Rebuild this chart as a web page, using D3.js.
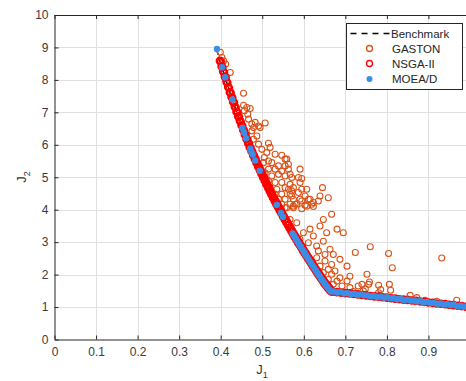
<!DOCTYPE html>
<html>
<head>
<meta charset="utf-8">
<script src="https://cdn.jsdelivr.net/npm/d3@7"></script>
<style>
  html, body { margin: 0; padding: 0; background: #fff; }
  svg { display: block; }
  text { font-family: "Liberation Sans", Arial, Helvetica, sans-serif; }
</style>
</head>
<body>
<svg id="chart" width="466" height="381"></svg>
<script>
// ---------------- data ----------------
const xTicks = [0, 0.1, 0.2, 0.3, 0.4, 0.5, 0.6, 0.7, 0.8, 0.9];
const xGrid = [0, 0.1, 0.2, 0.3, 0.4, 0.5, 0.6, 0.7, 0.8, 0.9, 1.0];
const yTicks = [0, 1, 2, 3, 4, 5, 6, 7, 8, 9, 10];
const seriesNames = ["Benchmark", "GASTON", "NSGA-II", "MOEA/D"];

// Benchmark Pareto front
const benchJ1 = [0.39, 0.40, 0.41, 0.42, 0.43, 0.44, 0.45, 0.46, 0.47, 0.48, 0.49, 0.50, 0.51, 0.52, 0.53, 0.54, 0.55, 0.56, 0.57, 0.58, 0.59, 0.60, 0.61, 0.62, 0.63, 0.64, 0.65, 0.665, 0.75, 0.85, 0.95, 1.00];
const benchJ2 = [8.95, 8.50, 8.10, 7.70, 7.32, 6.95, 6.60, 6.25, 5.92, 5.62, 5.33, 5.05, 4.78, 4.52, 4.27, 4.03, 3.79, 3.56, 3.34, 3.12, 2.91, 2.70, 2.50, 2.30, 2.10, 1.91, 1.72, 1.48, 1.36, 1.22, 1.07, 1.00];

// GASTON
const gastonJ1 = [0.399, 0.403, 0.407, 0.412, 0.423, 0.455, 0.455, 0.463, 0.471, 0.457, 0.465, 0.467, 0.475, 0.491, 0.507, 0.495, 0.479,
  0.483, 0.475, 0.487, 0.479, 0.491, 0.515, 0.519, 0.499, 0.511, 0.531, 0.547, 0.505, 0.515, 0.503, 0.523, 0.555, 0.539, 0.555, 0.515, 0.531, 0.547, 0.563, 0.591, 0.507, 0.523, 0.539, 0.555, 0.571, 0.587, 0.515, 0.531, 0.547, 0.567, 0.591, 0.519, 0.535, 0.555, 0.575, 0.595, 0.607, 0.531, 0.547, 0.567, 0.587, 0.603, 0.539, 0.555, 0.575, 0.595, 0.615, 0.547, 0.567, 0.583, 0.603, 0.619, 0.555, 0.575, 0.595,
  0.559, 0.563, 0.567, 0.595, 0.645, 0.639, 0.659, 0.611, 0.635, 0.571, 0.591, 0.579, 0.623, 0.563, 0.571,
  0.559, 0.575, 0.607, 0.623, 0.667, 0.647, 0.639, 0.680, 0.695, 0.615, 0.599, 0.583, 0.567, 0.623, 0.655, 0.591, 0.611, 0.631, 0.647, 0.663, 0.635, 0.651, 0.671, 0.687, 0.724, 0.631, 0.651, 0.667, 0.639, 0.659, 0.675, 0.704, 0.711, 0.647, 0.667, 0.687, 0.659, 0.680, 0.704, 0.671, 0.692, 0.711, 0.731, 0.752, 0.743, 0.719, 0.756,
  0.760, 0.804, 0.813, 0.758, 0.740, 0.748, 0.780, 0.785, 0.806, 0.809, 0.780, 0.856, 0.872, 0.892, 0.932, 0.968, 0.920];
const gastonJ2 = [8.85, 8.69, 8.59, 8.49, 8.23, 7.59, 7.22, 7.15, 7.12, 7.05, 6.94, 6.79, 6.64, 6.58, 6.67, 6.53, 6.53,
  6.69, 6.43, 6.27, 6.17, 6.02, 6.05, 5.92, 5.86, 5.76, 5.71, 5.68, 5.61, 5.50, 5.45, 5.45, 5.56, 5.35, 5.35, 5.25, 5.25, 5.19, 5.25, 5.25, 5.14, 5.04, 5.09, 5.04, 4.99, 4.99, 4.89, 4.84, 4.84, 4.78, 4.84, 4.68, 4.63, 4.68, 4.68, 4.63, 4.63, 4.48, 4.48, 4.48, 4.53, 4.42, 4.32, 4.32, 4.32, 4.27, 4.32, 4.17, 4.17, 4.17, 4.14, 4.17, 4.06, 4.06, 4.03,
  5.56, 5.40, 5.09, 4.96, 4.68, 4.42, 4.37, 4.32, 4.27, 4.42, 4.32, 4.17, 4.10, 4.63, 4.58,
  4.06, 4.11, 4.11, 4.22, 3.86, 3.70, 3.50, 3.40, 3.29, 3.40, 3.29, 3.60, 3.70, 3.19, 3.29, 3.09, 2.98, 2.88, 3.03, 2.78, 2.73, 2.62, 2.62, 2.47, 2.68, 2.52, 2.42, 2.31, 2.26, 2.16, 2.11, 2.26, 1.95, 2.06, 2.01, 1.90, 1.85, 1.80, 1.80, 1.70, 1.65, 1.60, 1.65, 2.01, 1.50, 1.48, 1.70,
  2.86, 2.65, 2.21, 1.77, 1.70, 1.56, 1.67, 1.54, 1.70, 1.52, 1.44, 1.36, 1.29, 1.21, 2.51, 1.21, 1.18];

// NSGA-II (dense band along the front)
const nsgaJ1 = [0.398, 0.402, 0.406, 0.410, 0.414, 0.418, 0.422, 0.426, 0.430, 0.434, 0.438, 0.442, 0.446, 0.450, 0.454, 0.458, 0.462, 0.466, 0.470, 0.474, 0.478, 0.482, 0.486, 0.490, 0.494, 0.498, 0.502, 0.506, 0.510, 0.514, 0.518, 0.522, 0.526, 0.530, 0.534, 0.538, 0.542, 0.546, 0.550, 0.554, 0.558, 0.562, 0.566, 0.570, 0.574, 0.578, 0.582, 0.586, 0.590, 0.594, 0.598, 0.602, 0.606, 0.610, 0.614, 0.618, 0.622, 0.626, 0.630, 0.634, 0.638, 0.642, 0.646, 0.650, 0.654, 0.658, 0.662, 0.666,
  0.400, 0.404, 0.408, 0.412, 0.416, 0.420, 0.424, 0.428, 0.432, 0.436, 0.440, 0.444, 0.448, 0.452, 0.456, 0.460, 0.464, 0.468, 0.472, 0.476, 0.480, 0.484, 0.488, 0.492, 0.496, 0.500, 0.504, 0.508, 0.512, 0.516, 0.520, 0.524, 0.528, 0.532, 0.536, 0.540, 0.544, 0.548, 0.552, 0.556, 0.560, 0.564, 0.568, 0.572, 0.576, 0.580, 0.584, 0.588, 0.592, 0.596, 0.600, 0.604, 0.608, 0.612, 0.616, 0.620, 0.624, 0.628, 0.632, 0.636, 0.640, 0.644, 0.648, 0.652, 0.656, 0.660, 0.664,
  0.67, 0.68, 0.69, 0.70, 0.71, 0.72, 0.73, 0.74, 0.75, 0.76, 0.77, 0.78, 0.79, 0.80, 0.81, 0.82, 0.83, 0.84, 0.85, 0.86, 0.87, 0.88, 0.89, 0.90, 0.91, 0.92, 0.93, 0.94, 0.95, 0.96, 0.97, 0.98, 0.99, 1.00];
const nsgaJ2 = [8.59, 8.42, 8.26, 8.10, 7.94, 7.78, 7.62, 7.47, 7.32, 7.17, 7.02, 6.88, 6.74, 6.60, 6.46, 6.32, 6.18, 6.05, 5.92, 5.80, 5.68, 5.56, 5.45, 5.33, 5.22, 5.11, 5.00, 4.89, 4.78, 4.68, 4.57, 4.47, 4.37, 4.27, 4.17, 4.08, 3.98, 3.89, 3.79, 3.70, 3.61, 3.52, 3.43, 3.34, 3.25, 3.16, 3.08, 2.99, 2.91, 2.83, 2.74, 2.66, 2.58, 2.50, 2.42, 2.34, 2.26, 2.18, 2.10, 2.02, 1.95, 1.87, 1.80, 1.72, 1.66, 1.59, 1.53, 1.48,
  8.56, 8.39, 8.23, 8.07, 7.91, 7.75, 7.60, 7.45, 7.30, 7.15, 7.00, 6.86, 6.72, 6.58, 6.44, 6.30, 6.17, 6.04, 5.91, 5.79, 5.67, 5.56, 5.44, 5.33, 5.22, 5.11, 5.00, 4.89, 4.78, 4.68, 4.57, 4.47, 4.37, 4.27, 4.18, 4.08, 3.99, 3.89, 3.80, 3.71, 3.62, 3.53, 3.44, 3.35, 3.26, 3.17, 3.09, 3.00, 2.92, 2.84, 2.75, 2.67, 2.59, 2.51, 2.43, 2.35, 2.27, 2.19, 2.11, 2.04, 1.96, 1.89, 1.81, 1.74, 1.68, 1.61, 1.55,
  1.47, 1.46, 1.44, 1.43, 1.42, 1.40, 1.39, 1.37, 1.36, 1.34, 1.33, 1.32, 1.30, 1.29, 1.27, 1.26, 1.24, 1.23, 1.22, 1.20, 1.19, 1.17, 1.16, 1.14, 1.13, 1.11, 1.10, 1.09, 1.07, 1.06, 1.04, 1.03, 1.01, 1.00];

// MOEA/D
const moeadJ1 = [0.391, 0.403, 0.411, 0.428, 0.452, 0.456, 0.461, 0.471, 0.474, 0.477, 0.483, 0.494, 0.535, 0.545, 0.550, 0.573,
  0.577, 0.581, 0.585, 0.589, 0.593, 0.597, 0.601, 0.605, 0.609, 0.613, 0.617, 0.621, 0.625, 0.629, 0.633, 0.637, 0.641, 0.645, 0.649, 0.653, 0.657, 0.661, 0.665,
  0.673, 0.681, 0.689, 0.697, 0.705, 0.713, 0.721, 0.729, 0.737, 0.745, 0.753, 0.761, 0.769, 0.777, 0.785, 0.793, 0.801, 0.809, 0.817, 0.825, 0.833, 0.841, 0.849, 0.857, 0.865, 0.873, 0.881, 0.889, 0.897, 0.905, 0.913, 0.921, 0.929, 0.937, 0.945, 0.953, 0.961, 0.969, 0.977, 0.985, 0.993, 1.000];
const moeadJ2 = [8.95, 8.39, 8.08, 7.40, 6.52, 6.38, 6.20, 5.88, 5.78, 5.70, 5.52, 5.20, 4.15, 3.90, 3.78, 3.27,
  3.19, 3.10, 3.02, 2.93, 2.85, 2.77, 2.68, 2.60, 2.52, 2.44, 2.36, 2.28, 2.20, 2.12, 2.04, 1.97, 1.89, 1.82, 1.74, 1.67, 1.61, 1.54, 1.48,
  1.48, 1.45, 1.46, 1.42, 1.43, 1.40, 1.41, 1.38, 1.39, 1.36, 1.36, 1.33, 1.34, 1.31, 1.32, 1.29, 1.30, 1.27, 1.27, 1.24, 1.25, 1.22, 1.23, 1.20, 1.20, 1.17, 1.18, 1.15, 1.16, 1.13, 1.13, 1.10, 1.11, 1.08, 1.09, 1.06, 1.07, 1.03, 1.04, 1.01, 1.02, 0.99];

// ---------------- drawing ----------------
const W = 466, H = 381;
const plot = { left: 54.5, right: 470, top: 15, bottom: 339.5 };
const colors = { bench: "#000000", gaston: "#D95319", nsga: "#FF0000", moead: "#3A8EE6" };
const axisColor = "#262626";

const svg = d3.select("#chart");
const x = d3.scaleLinear().domain([0, 1]).range([plot.left, plot.right]);
const y = d3.scaleLinear().domain([0, 10]).range([plot.bottom, plot.top]);

svg.append("defs").append("clipPath").attr("id", "clip")
  .append("rect").attr("x", plot.left).attr("y", plot.top)
  .attr("width", plot.right - plot.left).attr("height", plot.bottom - plot.top);

// grid
const grid = svg.append("g").attr("stroke", "#e0e0e0").attr("stroke-width", 1);
grid.selectAll("line.gx").data(xGrid.slice(1)).join("line")
  .attr("x1", d => Math.round(x(d)) + 0.5).attr("x2", d => Math.round(x(d)) + 0.5)
  .attr("y1", plot.top).attr("y2", plot.bottom);
grid.selectAll("line.gy").data(yTicks.slice(1, -1)).join("line")
  .attr("y1", d => Math.round(y(d)) + 0.5).attr("y2", d => Math.round(y(d)) + 0.5)
  .attr("x1", plot.left).attr("x2", plot.right);

const data = svg.append("g").attr("clip-path", "url(#clip)");

// benchmark
const benchPts = benchJ1.map((v, i) => [v, benchJ2[i]]);
data.append("path").datum(benchPts)
  .attr("fill", "none").attr("stroke", colors.bench).attr("stroke-width", 1.5)
  .attr("stroke-dasharray", "6,4")
  .attr("d", d3.line().x(d => x(d[0])).y(d => y(d[1])));

// GASTON
data.append("g").selectAll("circle").data(gastonJ1.map((v, i) => [v, gastonJ2[i]])).join("circle")
  .attr("cx", d => x(d[0])).attr("cy", d => y(d[1])).attr("r", 3)
  .attr("fill", "none").attr("stroke", colors.gaston).attr("stroke-width", 1.1);

// NSGA-II
data.append("g").selectAll("circle").data(nsgaJ1.map((v, i) => [v, nsgaJ2[i]])).join("circle")
  .attr("cx", d => x(d[0])).attr("cy", d => y(d[1])).attr("r", 3.3)
  .attr("fill", "none").attr("stroke", colors.nsga).attr("stroke-width", 2);

// MOEA/D
data.append("g").selectAll("circle").data(moeadJ1.map((v, i) => [v, moeadJ2[i]])).join("circle")
  .attr("cx", d => x(d[0])).attr("cy", d => y(d[1])).attr("r", 3.2)
  .attr("fill", colors.moead).attr("stroke", "none");

// axes
const xAxis = d3.axisBottom(x).tickValues(xTicks).tickSizeInner(-4).tickSizeOuter(0).tickPadding(8)
  .tickFormat(d => d === 0 ? "0" : d3.format(".1f")(d));
const gx = svg.append("g").attr("transform", `translate(0,${plot.bottom})`).call(xAxis);
const yAxis = d3.axisLeft(y).tickValues(yTicks).tickSizeInner(-4).tickSizeOuter(0).tickPadding(6)
  .tickFormat(d3.format("d"));
const gy = svg.append("g").attr("transform", `translate(${plot.left},0)`).call(yAxis);
const xTop = d3.axisTop(x).tickValues(xTicks).tickSizeInner(-4).tickSizeOuter(0).tickFormat("");
const gt = svg.append("g").attr("transform", `translate(0,${plot.top})`).call(xTop);

[gx, gy, gt].forEach(g => {
  g.select(".domain").attr("stroke", axisColor).attr("stroke-width", 1);
  g.selectAll(".tick line").attr("stroke", axisColor).attr("stroke-width", 1);
  g.selectAll(".tick text").attr("fill", "#3a3a3a").attr("font-size", 12)
    .attr("font-family", '"Liberation Sans", Arial, sans-serif');
});
gy.select(".domain").attr("d", `M0.5,${plot.top}V${plot.bottom}`);
gy.selectAll(".tick text").attr("x", -6);

// axis labels
const xl = svg.append("text").attr("x", 262).attr("y", 374).attr("text-anchor", "middle")
  .attr("font-size", 13).attr("fill", "#333");
xl.append("tspan").text("J");
xl.append("tspan").attr("font-size", 9).attr("dy", 4).text("1");

const yl = svg.append("text").attr("transform", "translate(26,177) rotate(-90)")
  .attr("text-anchor", "middle").attr("font-size", 13).attr("fill", "#333");
yl.append("tspan").text("J");
yl.append("tspan").attr("font-size", 9).attr("dy", 4).text("2");

// legend
const lg = svg.append("g");
lg.append("rect").attr("x", 346.5).attr("y", 23.5).attr("width", 116).attr("height", 66)
  .attr("fill", "#fff").attr("stroke", axisColor).attr("stroke-width", 1);
const rows = [33.5, 48.5, 63.5, 79];
lg.append("line").attr("x1", 350.5).attr("x2", 389.5).attr("y1", rows[0]).attr("y2", rows[0])
  .attr("stroke", colors.bench).attr("stroke-width", 1.5).attr("stroke-dasharray", "6,5");
lg.append("circle").attr("cx", 369.5).attr("cy", rows[1]).attr("r", 3)
  .attr("fill", "none").attr("stroke", colors.gaston).attr("stroke-width", 1.3);
lg.append("circle").attr("cx", 369.5).attr("cy", rows[2]).attr("r", 3)
  .attr("fill", "none").attr("stroke", colors.nsga).attr("stroke-width", 1.3);
lg.append("circle").attr("cx", 369.5).attr("cy", rows[3]).attr("r", 3)
  .attr("fill", colors.moead);
seriesNames.forEach((name, i) => {
  lg.append("text").attr("x", i === 0 ? 391 : 392).attr("y", rows[i]).attr("dy", "0.35em")
    .attr("font-size", 11.5).attr("fill", "#262626").text(name);
});
</script>
</body>
</html>
